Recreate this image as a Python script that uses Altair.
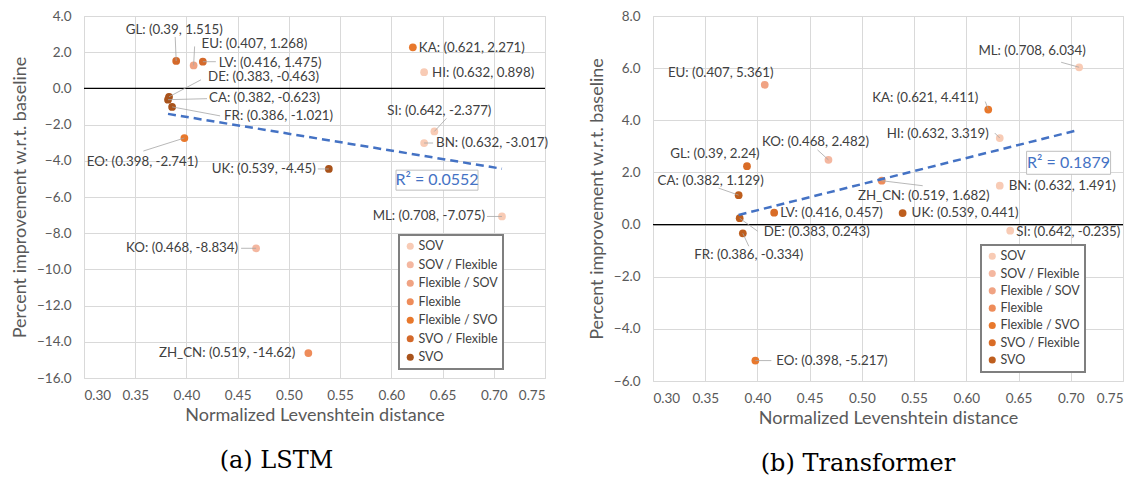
import altair as alt
import pandas as pd
import numpy as np

# ---------------- data ----------------
order_levels = ["SOV", "SOV / Flexible", "Flexible / SOV", "Flexible",
                "Flexible / SVO", "SVO / Flexible", "SVO"]
word_order = {"GL": "SVO / Flexible", "EU": "Flexible / SOV", "LV": "SVO / Flexible",
              "DE": "SVO", "CA": "SVO", "FR": "SVO", "EO": "Flexible / SVO",
              "KA": "Flexible / SVO", "HI": "SOV", "SI": "SOV", "BN": "SOV",
              "UK": "SVO", "ML": "SOV", "KO": "SOV / Flexible", "ZH_CN": "Flexible"}

lstm_langs = ["GL", "EU", "LV", "DE", "CA", "FR", "EO", "KA", "HI", "SI", "BN", "UK", "ML", "KO", "ZH_CN"]
lstm_x = [0.39, 0.407, 0.416, 0.383, 0.382, 0.386, 0.398, 0.621, 0.632, 0.642, 0.632, 0.539, 0.708, 0.468, 0.519]
lstm_y = [1.515, 1.268, 1.475, -0.463, -0.623, -1.021, -2.741, 2.271, 0.898, -2.377, -3.017, -4.45, -7.075, -8.834, -14.62]

tr_langs = ["ML", "EU", "KA", "HI", "KO", "GL", "CA", "ZH_CN", "BN", "LV", "UK", "DE", "SI", "FR", "EO"]
tr_x = [0.708, 0.407, 0.621, 0.632, 0.468, 0.39, 0.382, 0.519, 0.632, 0.416, 0.539, 0.383, 0.642, 0.386, 0.398]
tr_y = [6.034, 5.361, 4.411, 3.319, 2.482, 2.24, 1.129, 1.682, 1.491, 0.457, 0.441, 0.243, -0.235, -0.334, -5.217]

lstm_r2 = "R² = 0.0552"
tr_r2 = "R² = 0.1879"

x_ticks = [0.30, 0.35, 0.40, 0.45, 0.50, 0.55, 0.60, 0.65, 0.70, 0.75]
lstm_y_ticks = [-16, -14, -12, -10, -8, -6, -4, -2, 0, 2, 4]
tr_y_ticks = [-6, -4, -2, 0, 2, 4, 6, 8]

# ---------------- layout (pixels) ----------------
# label placement: align, dx, dy (offset of text anchor from point), leader end offset or None
lstm_lab = {
    "GL": ("center", -2, -31, (-1, -24)),
    "EU": ("left", 8, -21, (1, -19)),
    "LV": ("left", 16, 1, (13, 0)),
    "DE": ("left", 39, -20, (32, -17)),
    "CA": ("left", 41, -2, (39, -1)),
    "FR": ("left", 52, 9, (48, 9)),
    "EO": ("center", -42, 24, (-41, 13)),
    "KA": ("left", 6, 1, None),
    "HI": ("left", 8, 1, None),
    "SI": ("center", 5, -20, (12, -13)),
    "BN": ("left", 12, 0, (9, 0)),
    "UK": ("right", -13, 0, (-11, 0)),
    "ML": ("right", -17, 0, (-15, 0)),
    "KO": ("right", -18, 0, (-15, 0)),
    "ZH_CN": ("right", -13, 0, None),
}
tr_lab = {
    "ML": ("center", -47, -16, (-18, -5)),
    "EU": ("center", -44, -12, None),
    "KA": ("right", -10, -12, (-3, -8)),
    "HI": ("right", -11, -4, (-5, -5)),
    "KO": ("center", -13, -18, (-11, -10)),
    "GL": ("center", -32, -12, None),
    "CA": ("center", -28, -14, (-20, -7)),
    "ZH_CN": ("center", 42, 15, (41, 5)),
    "BN": ("left", 9, 0, None),
    "LV": ("left", 6, 0, None),
    "UK": ("left", 9, 0, None),
    "DE": ("left", 24, 14, (18, 13)),
    "SI": ("left", 6, 1, None),
    "FR": ("center", 6, 22, (6, 13)),
    "EO": ("left", 21, 0, (16, 0)),
}

FONT = "Lato"
GRID = "#D9D9D9"
AXC = "#595959"
LABC = "#404040"
BLUE = "#4472C4"
XTITLE = "Normalized Levenshtein distance"
YTITLE = "Percent improvement w.r.t. baseline"


def panel(langs, xs, ys, lab, xdom, ydom, yticks, W, H, colors, legend_xy, row_pad,
          r2_text, r2_center, r2_box, caption, cap_dx):
    kx = W / (xdom[1] - xdom[0])
    ky = H / (ydom[1] - ydom[0])
    rows = []
    for lg, xv, yv in zip(langs, xs, ys):
        al, dx, dy, le = lab[lg]
        rows.append(dict(
            lang=lg, x=xv, y=yv, order=word_order[lg],
            label=f"{lg}: ({xv}, {yv})", align=al,
            lx=xv + dx / kx, ly=yv - dy / ky,
            has_leader=le is not None,
            ex=xv + (le[0] if le else 0) / kx, ey=yv - (le[1] if le else 0) / ky,
        ))
    df = pd.DataFrame(rows)

    xs_scale = alt.Scale(domain=xdom, nice=False, zero=False)
    ys_scale = alt.Scale(domain=ydom, nice=False, zero=False)

    def xaxis():
        return alt.Axis(values=x_ticks, format=".2f", grid=True, gridColor=GRID, domain=False,
                        ticks=False, labelFont=FONT, labelFontSize=13.5, labelColor=AXC,
                        labelPadding=10, labelOverlap=False, title=XTITLE,
                        titleFont=FONT, titleFontSize=18, titleFontWeight="normal",
                        titleColor=AXC, titlePadding=5)

    def yaxis():
        return alt.Axis(values=yticks, format=".1f", grid=True, gridColor=GRID, domain=False,
                        ticks=False, labelFont=FONT, labelFontSize=13.5, labelColor=AXC,
                        labelPadding=13, labelOverlap=False, title=YTITLE, titleFont=FONT,
                        titleFontSize=18, titleFontWeight="normal", titleColor=AXC,
                        titlePadding=7)

    def X(f):
        return alt.X(f, scale=xs_scale, axis=xaxis(), title=XTITLE)

    def Y(f):
        return alt.Y(f, scale=ys_scale, axis=yaxis(), title=YTITLE)

    base = alt.Chart(df)

    zero = alt.Chart(pd.DataFrame({"z": [0.0]})).mark_rule(color="black", strokeWidth=1.2).encode(
        y=Y("z:Q"))

    trend = base.transform_regression("x", "y").mark_line(
        color=BLUE, strokeWidth=2.5, strokeDash=[8, 5]).encode(x=X("x:Q"), y=Y("y:Q"))

    leaders = base.transform_filter("datum.has_leader").mark_rule(
        color="#A6A6A6", strokeWidth=0.8).encode(x=X("x:Q"), y=Y("y:Q"), x2="ex:Q", y2="ey:Q")

    pts = base.mark_circle(size=60, opacity=1).encode(
        x=X("x:Q"), y=Y("y:Q"),
        color=alt.Color("order:N", scale=alt.Scale(domain=order_levels, range=colors),
                        legend=alt.Legend(title=None, orient="none", legendX=legend_xy[0],
                                          legendY=legend_xy[1], strokeColor="#7F7F7F",
                                          fillColor="white", padding=5, rowPadding=row_pad,
                                          labelFont=FONT, labelFontSize=12.5, labelColor=LABC,
                                          symbolSize=50, symbolType="circle",
                                          symbolStrokeWidth=0, labelOffset=2)))

    texts = []
    for al in ["left", "center", "right"]:
        texts.append(base.transform_filter(alt.datum.align == al).mark_text(
            align=al, baseline="middle", font=FONT, fontSize=13.3, color=LABC).encode(
            x=X("lx:Q"), y=Y("ly:Q"), text="label:N"))

    bw, bh = r2_box
    r2df = pd.DataFrame({"t": [r2_text], "cx": [r2_center[0]], "cy": [r2_center[1]],
                         "x1": [r2_center[0] - bw / 2 / kx], "x2": [r2_center[0] + bw / 2 / kx],
                         "y1": [r2_center[1] - bh / 2 / ky], "y2": [r2_center[1] + bh / 2 / ky]})
    r2box = alt.Chart(r2df).mark_rect(fill="white", stroke="#BFBFBF", strokeWidth=1).encode(
        x=X("x1:Q"), x2="x2:Q", y=Y("y1:Q"), y2="y2:Q")
    r2txt = alt.Chart(r2df).mark_text(font=FONT, fontSize=16, color=BLUE, baseline="middle").encode(
        x=X("cx:Q"), y=Y("cy:Q"), text="t:N")

    return alt.layer(pts, zero, trend, leaders, *texts, r2box, r2txt).properties(
        width=W, height=H,
        title=alt.TitleParams(caption, orient="bottom", font="DejaVu Serif", fontSize=24,
                              fontWeight="normal", color="black", offset=24, dx=cap_dx))


lstm_colors = ["#F8CBB5", "#F4B7A0", "#F0A383", "#EE8C5A", "#E8782C", "#D4692A", "#A9531B"]
tr_colors = ["#F8CBB5", "#F4B7A0", "#F0A383", "#EE8C5A", "#E8782C", "#D96C26", "#BE5E1E"]

left = panel(lstm_langs, lstm_x, lstm_y, lstm_lab, [0.30, 0.75], [-16, 4], lstm_y_ticks,
             461, 362, lstm_colors, (315, 219), 5.5, lstm_r2, (0.6446, -5.07), (82, 20),
             "(a) LSTM", -38)
right = panel(tr_langs, tr_x, tr_y, tr_lab, [0.30, 0.75], [-6, 8], tr_y_ticks,
              470, 365, tr_colors, (328, 229), 4.3, tr_r2, (0.6979, 2.37), (84, 23),
              "(b) Transformer", -30)

chart = alt.hconcat(left, right, spacing=38).resolve_scale(
    color="independent", x="independent", y="independent").configure(
    padding={"left": 2, "top": 0, "right": 0, "bottom": 0}).configure_view(
    stroke=GRID).configure_legend(strokeWidth=2)

chart.save("out.html", embed_options={"renderer": "svg", "actions": False})
